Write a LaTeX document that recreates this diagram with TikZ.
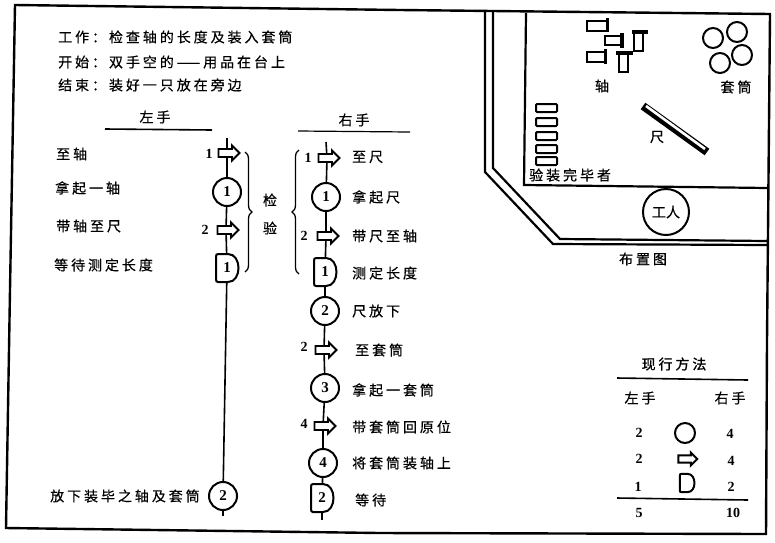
\documentclass[tikz,border=0pt]{standalone}
\usepackage{fontspec}
\setmainfont{Liberation Serif}
\newfontfamily\cjk[LetterSpace=21,FakeBold=0.5]{Noto Sans CJK SC}
\newfontfamily\cjkb[LetterSpace=21,FakeBold=1.2]{Noto Sans CJK SC}
\newfontfamily\cjkplain[FakeBold=0.5]{Noto Sans CJK SC}
\usetikzlibrary{shapes.arrows,decorations.pathreplacing}
\newcommand{\dsym}[6][2pt]{% line width, name, x, y, scale, text
  \draw[shift={(#3,#4)},scale=#5,line width=#1,fill=white]
    (-9,-14) -- (1,-14) .. controls (8,-14) and (11.5,-7) .. (11.5,0)
    .. controls (11.5,7) and (8,14) .. (1,14) -- (-9,14)
    .. controls (-10.5,14) and (-11,13) .. (-11,11) -- (-11,-11)
    .. controls (-11,-13) and (-10.5,-14) .. (-9,-14) -- cycle;
  \node[inner sep=0pt,minimum height=28pt*#5,minimum width=22pt*#5,font=\fontsize{15}{15}\selectfont\bfseries] (#2) at (#3,#4) {#6};
}
\tikzset{
 line/.style={line width=1.6pt,black},
 frameline/.style={line width=2.2pt,black,line join=miter},
 txt/.style={anchor=west,inner sep=0pt,font=\fontsize{14}{14}\selectfont\cjk},
 ctr/.style={inner sep=0pt,font=\fontsize{14}{14}\selectfont\cjk},
 num/.style={inner sep=0pt,font=\fontsize{14}{14}\selectfont\bfseries},
 opcirc/.style={circle,draw,line width=2pt,fill=white,minimum size=28pt,inner sep=0pt,font=\fontsize{15}{15}\selectfont\bfseries},
 moveb/.style={single arrow,draw,line width=1.9pt,fill=white,minimum height=21pt,minimum width=15pt,single arrow head extend=3pt,single arrow head indent=0pt,inner sep=2.5pt},
 brc/.style={line width=1.3pt,decorate,decoration={brace,amplitude=7pt}},
 part/.style={draw,line width=2pt,fill=white,inner sep=0pt},
}
\begin{document}
\begin{tikzpicture}[x=1pt,y=-1pt]
\useasboundingbox (0,0) rectangle (775,542);
\fill[white] (0,0) rectangle (775,542);
% frame
\draw[frameline,line width=2.4pt] (15,5) -- (400,10) -- (770,14) -- (767,340) -- (766,534) -- (380,533) -- (6,528) -- (10,290) -- cycle;
% heading
\node[txt] (h1) at (58,37) {工作：检查轴的长度及装入套筒};
\node[txt] (h2) at (58,62) {开始：双手空的——用品在台上};
\node[txt] (h3) at (58,85) {结束：装好一只放在旁边};
% columns
\node[ctr] (lh) at (155,117) {左手};
\node[ctr] (rh) at (354,120) {右手};
\coordinate (lr1) at (105,129); \coordinate (lr2) at (212,130);
\coordinate (rr1) at (298,131); \coordinate (rr2) at (410,132);
\draw[line] (lr1) -- (lr2);
\draw[line,line width=1.2pt] (rr1) -- (rr2);
% left chart
\coordinate (ltop) at (227,138); \coordinate (lbot) at (223,516);
\node[moveb] (la1) at (227,153) {};
\node[opcirc] (lc1) at (227,192) {1};
\node[moveb] (la2) at (226,230) {};
\dsym{ld1}{227}{268}{1}{1}
\node[opcirc] (lc2) at (223,496) {2};
\draw[line] (ltop) -- (la1);
\draw[line] (la1) -- (lc1);
\draw[line] (lc1) -- (la2);
\draw[line] (la2) -- (ld1);
\draw[line] (ld1) -- (lc2);
\draw[line] (lc2) -- (lbot);
\node[num] (ln1) at (209,154) {1};
\node[num] (ln2) at (205,230) {2};
\node[txt] at (56,154) {至轴};
\node[txt] at (55,188) {拿起一轴};
\node[txt] at (56,226) {带轴至尺};
\node[txt] at (54,265) {等待测定长度};
\node[txt] at (50,496) {放下装毕之轴及套筒};
% braces
\coordinate (b1a) at (245,152); \coordinate (b1b) at (245,272);
\coordinate (b2a) at (299,150); \coordinate (b2b) at (299,274);
\draw[brc] (b1a) -- (b1b);
\draw[brc] (b2b) -- (b2a);
\node[ctr] at (270,200) {检};
\node[ctr] at (270,228) {验};
% right chart
\coordinate (rtop) at (326,142); \coordinate (rbot) at (322,520);
\node[moveb] (ra1) at (327,158) {};
\node[opcirc] (rc1) at (326,197) {1};
\node[moveb] (ra2) at (326,236) {};
\dsym{rd1}{325}{272}{1}{1}
\node[opcirc] (rc2) at (325,311) {2};
\node[moveb] (ra3) at (324,350) {};
\node[opcirc] (rc3) at (325,388) {3};
\node[moveb] (ra4) at (323,426) {};
\node[opcirc] (rc4) at (323,463) {4};
\dsym{rd2}{322}{498}{1}{2}
\draw[line] (rtop) -- (ra1);
\draw[line] (ra1) -- (rc1);
\draw[line] (rc1) -- (ra2);
\draw[line] (ra2) -- (rd1);
\draw[line] (rd1) -- (rc2);
\draw[line] (rc2) -- (ra3);
\draw[line] (ra3) -- (rc3);
\draw[line] (rc3) -- (ra4);
\draw[line] (ra4) -- (rc4);
\draw[line] (rc4) -- (rd2);
\draw[line] (rd2) -- (rbot);
\node[num] at (308,158) {1};
\node[num] at (304,236) {2};
\node[num] at (304,347) {2};
\node[num] at (304,424) {4};
\node[txt] at (352,157) {至尺};
\node[txt] at (352,197) {拿起尺};
\node[txt] at (352,236) {带尺至轴};
\node[txt] at (352,273) {测定长度};
\node[txt] at (352,311) {尺放下};
\node[txt] at (355,350) {至套筒};
\node[txt] at (352,390) {拿起一套筒};
\node[txt] at (352,427) {带套筒回原位};
\node[txt] at (352,463) {将套筒装轴上};
\node[txt] at (355,500) {等待};
% layout plan
\draw[frameline] (485,12) -- (485,172) -- (553,244) -- (768,245);
\draw[frameline] (493,12) -- (493,168) -- (560,239) -- (768,241);
\draw[frameline] (526,13) -- (524,185) -- (768,188);
% shafts
\draw[part] (587,21) rectangle (607,31);
\draw[line width=3pt] (607,18) -- (607,32);
\draw[part] (605,36) rectangle (621,45);
\draw[line width=3.5pt] (622,33) -- (622,48);
\draw[part] (587,52) rectangle (605,62);
\draw[line width=3pt] (605,49) -- (605,64);
\draw[part] (634,32) rectangle (643,51);
\draw[line width=3.5pt] (632,32) -- (648,32);
\draw[part] (619,53) rectangle (628,72);
\draw[line width=3.5pt] (616,53) -- (633,53);
% sleeves
\foreach \p in {(713,38),(737,32),(742,55),(720,63)}
  \draw[line width=2pt] \p circle (10);
\node[ctr] at (602,86) {轴};
\node[ctr] at (736,87) {套筒};
\node[ctr] at (657,137) {尺};
% ruler
\draw[line width=8pt] (643,106) -- (707,152);
\draw[line width=2.6pt,white] (646,106) -- (705,149);
% finished stack
\foreach \y in {104,118,132,145,157}
  \draw[part,rounded corners=1pt] (536,\y) rectangle (557,\y+8);
\node[txt] at (529,175) {验装完毕者};
\node[circle,draw,line width=2pt,minimum size=46pt,inner sep=0pt,font=\fontsize{14}{14}\selectfont\cjkplain] (worker) at (666,212) {工人};
\node[ctr] at (643,259) {布置图};
% table
\node[ctr,font=\fontsize{14}{14}\selectfont\cjkb] at (674,364) {现行方法};
\coordinate (t1a) at (617,378); \coordinate (t1b) at (748,380);
\coordinate (t2a) at (617,498); \coordinate (t2b) at (748,500);
\draw[line] (t1a) -- (t1b);
\draw[line] (t2a) -- (t2b);
\node[ctr] at (640,398) {左手};
\node[ctr] at (730,398) {右手};
\node[num] at (639,433) {2};
\node[circle,draw,line width=2pt,minimum size=20pt,inner sep=0pt] (s1) at (685,433) {};
\node[num] at (730,434) {4};
\node[num] at (639,459) {2};
\node[single arrow,draw,line width=2pt,minimum height=19pt,minimum width=13pt,single arrow head extend=2.5pt,single arrow head indent=0pt,inner sep=2pt] (s2) at (686,459) {};
\node[num] at (731,461) {4};
\node[num] at (638,487) {1};
\dsym{s3}{687}{483}{0.65}{}
\node[num] at (731,487) {2};
\node[num] at (639,513) {5};
\node[num] at (733,513) {10};
\end{tikzpicture}
\end{document}
